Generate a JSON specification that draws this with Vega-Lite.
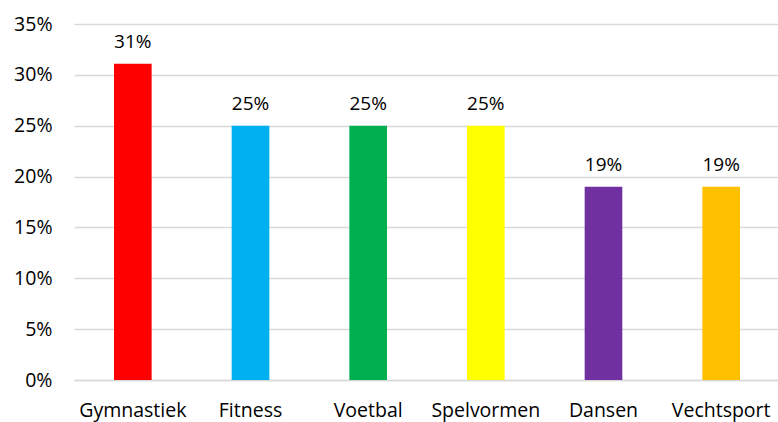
{
  "$schema": "https://vega.github.io/schema/vega-lite/v6.json",
  "autosize": {"type": "none"},
  "width": 706,
  "height": 356,
  "padding": {"left": 74, "top": 24, "right": 0, "bottom": 42},
  "background": "white",
  "config": {"view": {"stroke": null}, "font": "Open Sans"},
  "data": {
    "values": [
      {"sport": "Gymnastiek", "pct": 0.311, "color": "#FF0000"},
      {"sport": "Fitness", "pct": 0.25, "color": "#00B0F0"},
      {"sport": "Voetbal", "pct": 0.25, "color": "#00B050"},
      {"sport": "Spelvormen", "pct": 0.25, "color": "#FFFF00"},
      {"sport": "Dansen", "pct": 0.19, "color": "#7030A0"},
      {"sport": "Vechtsport", "pct": 0.19, "color": "#FFC000"}
    ]
  },
  "encoding": {
    "x": {
      "field": "sport", "type": "nominal", "sort": null,
      "scale": {"paddingInner": 0.68, "paddingOuter": 0.34},
      "axis": {"title": null, "labelAngle": 0, "ticks": false, "domainColor": "#d9d9d9", "domainWidth": 1.5, "labelFontSize": 19.5, "labelColor": "#000000", "labelPadding": 21}
    },
    "y": {
      "field": "pct", "type": "quantitative",
      "scale": {"domain": [0, 0.35]},
      "axis": {"title": null, "format": ".0%", "values": [0, 0.05, 0.1, 0.15, 0.2, 0.25, 0.3, 0.35], "domain": false, "ticks": false, "gridColor": "#d9d9d9", "gridWidth": 1.5, "labelFontSize": 19.5, "labelColor": "#000000", "labelPadding": 22}
    }
  },
  "layer": [
    {"mark": {"type": "bar"}, "encoding": {"color": {"field": "color", "type": "nominal", "scale": null}}},
    {"mark": {"type": "text", "dy": -22, "fontSize": 19, "color": "#000000"}, "encoding": {"text": {"field": "pct", "type": "quantitative", "format": ".0%"}}}
  ]
}
